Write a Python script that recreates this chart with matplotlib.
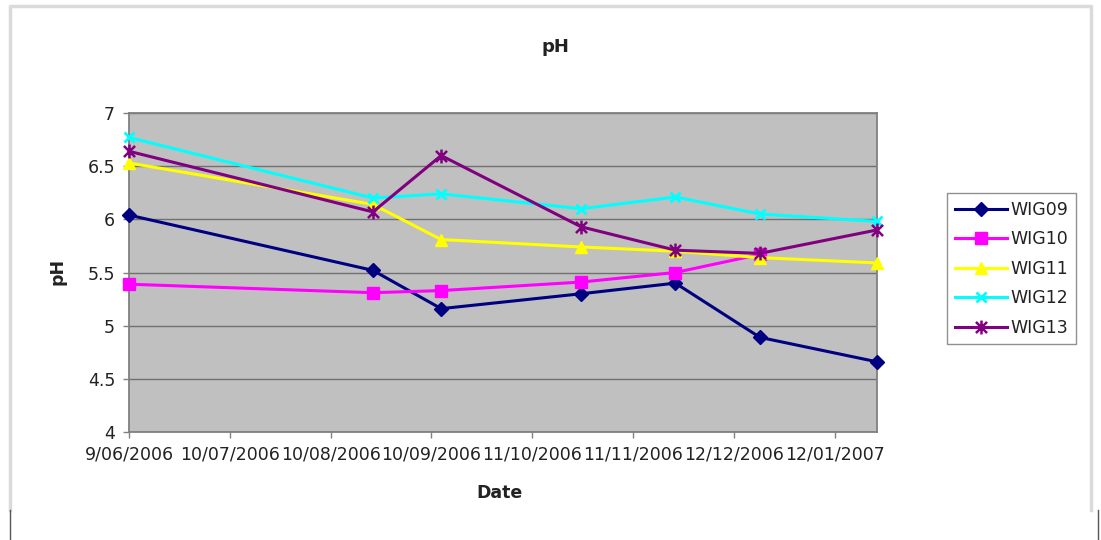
import datetime as dt
import matplotlib
matplotlib.use("Agg")
import matplotlib.pyplot as plt
import matplotlib.dates as mdates
from matplotlib.path import Path
from matplotlib.lines import Line2D

# sampling dates and pH readings per well
dates = [dt.date(2006, 6, 9), dt.date(2006, 8, 23), dt.date(2006, 9, 13),
         dt.date(2006, 10, 26), dt.date(2006, 11, 24), dt.date(2006, 12, 20),
         dt.date(2007, 1, 25)]
wig09 = [6.04, 5.52, 5.16, 5.30, 5.40, 4.89, 4.66]
wig10 = [5.39, 5.31, 5.33, 5.41, 5.50, 5.67]
wig11 = [6.53, 6.14, 5.81, 5.74, 5.70, 5.64, 5.59]
wig12 = [6.77, 6.20, 6.24, 6.10, 6.21, 6.05, 5.98]
wig13 = [6.64, 6.07, 6.60, 5.93, 5.71, 5.68, 5.90]

# axis ticks every 31 days from the first sample
tick_dates = [dt.date(2006, 6, 9), dt.date(2006, 7, 10), dt.date(2006, 8, 10),
              dt.date(2006, 9, 10), dt.date(2006, 10, 11), dt.date(2006, 11, 11),
              dt.date(2006, 12, 12), dt.date(2007, 1, 12)]
tick_labels = ["9/06/2006", "10/07/2006", "10/08/2006", "10/09/2006",
               "11/10/2006", "11/11/2006", "12/12/2006", "12/01/2007"]
y_ticks = [4, 4.5, 5, 5.5, 6, 6.5, 7]
y_labels = ["4", "4.5", "5", "5.5", "6", "6.5", "7"]

# star marker: an x with a vertical bar through it
star = Path([(-1, -1), (1, 1), (-1, 1), (1, -1), (0, -1.25), (0, 1.25)],
            [Path.MOVETO, Path.LINETO, Path.MOVETO, Path.LINETO, Path.MOVETO, Path.LINETO])

series = [
    ("WIG09", wig09, "#000080", "D", 7, 1),
    ("WIG10", wig10, "#FF00FF", "s", 8, 1),
    ("WIG11", wig11, "#FFFF00", "^", 8, 1),
    ("WIG12", wig12, "#00FFFF", "x", 7, 2),
    ("WIG13", wig13, "#800080", star, 10, 1.8),
]

fig = plt.figure(figsize=(11.01, 5.40), dpi=100)

# chart area border
fig.add_artist(Line2D([10/1101, 10/1101, 1091/1101, 1091/1101],
                      [1-510/540, 1-6/540, 1-6/540, 1-510/540],
                      transform=fig.transFigure, color="#dadada", lw=2.5))
fig.add_artist(Line2D([10/1101, 10/1101], [0, 1-510/540],
                      transform=fig.transFigure, color="#555555", lw=1))
fig.add_artist(Line2D([1098/1101, 1098/1101], [0, 1-510/540],
                      transform=fig.transFigure, color="#555555", lw=1))

ax = fig.add_axes([129/1101, 108/540, 748/1101, 319/540])
ax.set_facecolor("#C0C0C0")

for name, vals, col, mk, ms, mew in series:
    ax.plot(dates[:len(vals)], vals, color=col, lw=2.2, marker=mk, markersize=ms,
            markeredgewidth=mew, markeredgecolor=col, markerfacecolor=col,
            label=name, clip_on=False, zorder=3)

ax.set_xlim(dates[0], dates[-1])
ax.set_ylim(4, 7)
ax.set_xticks(tick_dates)
ax.set_xticklabels(tick_labels)
ax.set_yticks(y_ticks)
ax.set_yticklabels(y_labels)
ax.yaxis.grid(True, color="#707070", lw=1)
ax.set_axisbelow(True)
for s in ax.spines.values():
    s.set_color("#808080")
    s.set_linewidth(1.3)
ax.tick_params(axis="both", direction="out", length=4, width=1, color="#808080",
               labelsize=12.5, labelcolor="#222222")
ax.tick_params(axis="x", pad=6)
ax.tick_params(axis="y", pad=6)

fig.text(555/1101, 1-47/540, "pH", ha="center", va="center",
         fontsize=13, fontweight="bold", color="#222222")
fig.text(500/1101, 1-493/540, "Date", ha="center", va="center",
         fontsize=12.5, fontweight="bold", color="#222222")
fig.text(57/1101, 1-271/540, "pH", ha="center", va="center", rotation=90,
         fontsize=12.5, fontweight="bold", color="#222222")

leg = ax.legend(loc="upper left", bbox_to_anchor=(947/1101, 1-193/540),
                bbox_transform=fig.transFigure, borderaxespad=0, fontsize=12.5,
                fancybox=False, framealpha=1, edgecolor="#909090",
                handlelength=3, handletextpad=0.2, labelspacing=0.66,
                borderpad=0.45)
leg.get_frame().set_linewidth(1)
for t in leg.get_texts():
    t.set_color("#222222")

fig.savefig("out.png", dpi=100)
